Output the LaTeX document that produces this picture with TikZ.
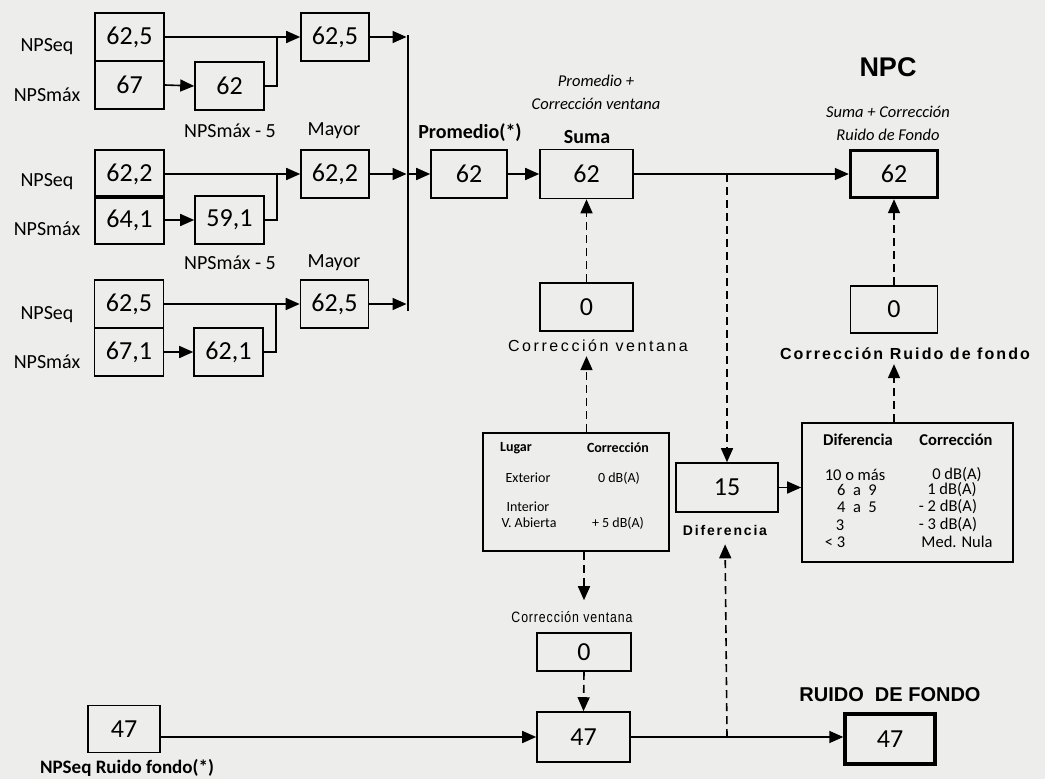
\documentclass[tikz,border=0pt]{standalone}
\usepackage{fontspec}
\setmainfont{Carlito}
\newfontfamily\arialf{Liberation Sans}
\newfontfamily\arialsp[LetterSpace=16]{Liberation Sans}
\newfontfamily\arialspb[LetterSpace=13]{Liberation Sans}
\newfontfamily\arialspn[LetterSpace=6,FakeStretch=0.82]{Liberation Sans}
\usetikzlibrary{arrows.meta}
\definecolor{bgc}{RGB}{237,237,235}
\begin{document}
\begin{tikzpicture}[x=1pt,y=-1pt,
  box/.style={draw, line width=1.6pt, inner sep=0pt, minimum width=69pt, minimum height=48pt, font=\fontsize{26}{26}\selectfont},
  tbox/.style={box, line width=3.4pt},
  conn/.style={line width=1.6pt},
  arr/.style={conn, -{Triangle[length=14pt,width=12pt]}},
  darr/.style={arr, dash pattern=on 8pt off 5pt},
  lbl/.style={inner sep=0pt, font=\fontsize{20}{20}\selectfont},
  blbl/.style={inner sep=0pt, font=\fontsize{20}{20}\selectfont\bfseries},
  ilbl/.style={inner sep=0pt, font=\fontsize{16.5}{16.5}\selectfont\itshape},
  spl/.style={inner sep=0pt, font=\fontsize{16}{16}\selectfont\arialsp},
  tt/.style={inner sep=0pt, font=\fontsize{14}{14}\selectfont},
  ttb/.style={inner sep=0pt, font=\fontsize{14}{14}\selectfont\bfseries},
  dt/.style={inner sep=0pt, font=\fontsize{16.5}{16.5}\selectfont},
  dtb/.style={inner sep=0pt, font=\fontsize{16.5}{16.5}\selectfont\bfseries}
]
\fill[bgc] (0,0) rectangle (1045,779);
\useasboundingbox (0,0) rectangle (1045,779);

% ---- group 1
\node[box] (eq1) at (129.5,37) {62,5};
\node[box] (mx1) at (129.5,85) {67};
\node[box] (m51) at (229.5,86) {62};
\node[box,minimum width=68pt] (my1) at (335,37) {62,5};
\node[lbl] (l1a) at (47,47) {NPSeq};
\node[lbl] (l1b) at (47,95) {NPSmáx};
\node[lbl] (l1c) at (230,131) {NPSmáx - 5};
\node[lbl] (l1d) at (334,131) {Mayor};
\coordinate (j1) at (277,37);
\coordinate (o1) at (406.5,37);
\draw[arr] (eq1.east) -- (my1.west);
\draw[arr] (mx1.east) -- (m51.west);
\draw[conn] (m51.east) -| (j1);
\draw[arr] (my1.east) -- (o1);

% ---- group 2
\node[box] (eq2) at (129.5,174) {62,2};
\node[box] (mx2) at (129.5,220) {64,1};
\node[box] (m52) at (229.5,220) {59,1};
\node[box,minimum width=68pt] (my2) at (335,174) {62,2};
\node[lbl] (l2a) at (47,182) {NPSeq};
\node[lbl] (l2b) at (47,229) {NPSmáx};
\node[lbl] (l2c) at (230,263) {NPSmáx - 5};
\node[lbl] (l2d) at (334,263) {Mayor};
\coordinate (j2) at (277,174);
\coordinate (o2) at (406.5,174);
\draw[arr] (eq2.east) -- (my2.west);
\draw[arr] (mx2.east) -- (m52.west);
\draw[conn] (m52.east) -| (j2);
\draw[arr] (my2.east) -- (o2);

% ---- group 3
\node[box] (eq3) at (129,304) {62,5};
\node[box] (mx3) at (129,352) {67,1};
\node[box] (m53) at (228.5,352) {62,1};
\node[box,minimum width=68pt] (my3) at (334.5,304) {62,5};
\node[lbl] (l3a) at (47,315) {NPSeq};
\node[lbl] (l3b) at (47,362) {NPSmáx};
\coordinate (j3) at (276,304);
\coordinate (o3) at (406.5,304);
\draw[arr] (eq3.east) -- (my3.west);
\draw[arr] (mx3.east) -- (m53.west);
\draw[conn] (m53.east) -| (j3);
\draw[arr] (my3.east) -- (o3);

% vertical collector
\coordinate (vt) at (408,35);
\coordinate (vb) at (408,311);
\coordinate (vm) at (408,174);
\draw[conn] (vt) -- (vb);

% ---- Promedio / Suma
\node[box,minimum width=76pt] (prom) at (469,174) {62};
\node[blbl] (promlab) at (470,133) {Promedio(*)};
\draw[arr] (vm) -- (prom.west);
\node[box,minimum width=93pt,minimum height=49pt] (suma) at (586.5,174) {62};
\node[blbl] (sumalab) at (587,137) {Suma};
\node[ilbl] (sumai1) at (596,81) {Promedio +};
\node[ilbl] (sumai2) at (596,104) {Corrección ventana};
\draw[arr] (prom.east) -- (suma.west);

\node[box,minimum width=93pt] (cv0) at (586.5,307) {0};
\draw[darr] (cv0.north) -- (suma.south);
\node[spl] (cvlab) at (598,346) {Corrección ventana};

% Lugar table
\node[draw,line width=1.6pt,minimum width=186pt,minimum height=118pt,inner sep=0pt] (lug) at (576,492) {};
\node[ttb] (lgh1) at (516,448) {Lugar};
\node[ttb] (lgh2) at (618,448) {Corrección};
\node[tt] (lg1a) at (528,478) {Exterior};
\node[tt] (lg1b) at (619,478) {0 dB(A)};
\node[tt] (lg2a) at (528,507) {Interior};
\node[tt] (lg2b) at (529,523) {V. Abierta};
\node[tt] (lg2c) at (618,523) {+ 5 dB(A)};
\draw[darr,shorten >=4pt] (lug.north -| cv0) -- (cv0 |- cvlab.south);

\node[inner sep=0pt,font=\fontsize{15}{15}\selectfont\arialspn] (cvlab2) at (572,617) {Corrección ventana};
\node[box,minimum width=94pt,minimum height=38pt] (cvb0) at (584,652) {0};
\draw[darr,shorten >=11pt] (lug.south -| cvb0) -- (cvb0 |- cvlab2.north);

% ---- bottom row
\node[box,minimum width=72pt,minimum height=47pt] (nf) at (124,729) {47};
\node[blbl,font=\fontsize{19}{19}\selectfont\bfseries] (nflab) at (127,768) {NPSeq Ruido fondo(*)};
\node[box,minimum width=93pt,minimum height=50pt] (mid) at (583.5,737) {47};
\node[tbox,minimum width=90pt,minimum height=50pt] (rf) at (890,739) {47};
\node[inner sep=0pt,font=\fontsize{20}{20}\selectfont\arialf\bfseries] (rflabb) at (890,695) {RUIDO\ \ DE FONDO};
\draw[darr] (cvb0.south) -- (mid.north);
\draw[arr] (nf.east |- mid.west) -- (mid.west);
\draw[arr] (mid.east) -- (mid.east -| rf.west);

% ---- Diferencia
\node[box,minimum width=102pt,minimum height=49pt] (dif) at (727,487.5) {15};
\node[inner sep=0pt,font=\fontsize{14}{14}\selectfont\arialspb\bfseries] (diflab) at (725,530) {Diferencia};
\coordinate (dtop) at (dif.north |- suma.east);
\coordinate (dbot) at (dif.south |- mid.east);
\draw[darr] (dtop) -- (dif.north);
\draw[darr,shorten >=9pt] (dbot) -- (diflab.south);

% correction table
\node[draw,line width=1.6pt,minimum width=211pt,minimum height=139pt,inner sep=0pt] (tab) at (907.5,492.5) {};
\node[dtb] (th1) at (858,440) {Diferencia};
\node[dtb] (th2) at (956,440) {Corrección};
\node[dt] (ta1) at (855,475) {10 o más};
\node[dt] (ta2) at (857,490) {6\ \ a\ \ 9};
\node[dt] (ta3) at (857,507) {4\ \ a\ \ 5};
\node[dt] (ta4) at (840,525) {3};
\node[dt] (ta5) at (835,542) {< 3};
\node[dt] (tb1) at (957,475) {0 dB(A)};
\node[dt] (tb2) at (952,490) {1 dB(A)};
\node[dt] (tb3) at (948,507) {- 2 dB(A)};
\node[dt] (tb4) at (948,525) {- 3 dB(A)};
\node[dt] (tb5) at (957,542) {Med. Nula};
\draw[darr] (dif.east) -- (dif.east -| tab.west);

% ---- NPC
\node[tbox,minimum width=87pt,minimum height=47pt] (npc) at (894,174) {62};
\node[inner sep=0pt,font=\fontsize{27}{27}\selectfont\arialf\bfseries] (npclab) at (888,67) {NPC};
\node[ilbl] (npci1) at (888,112) {Suma + Corrección};
\node[ilbl] (npci2) at (888,135) {Ruido de Fondo};
\draw[arr] (suma.east) -- (npc.west);
\node[box,minimum width=87pt,minimum height=47pt] (rf0) at (894,309.5) {0};
\draw[darr] (rf0.north) -- (npc.south);
\node[inner sep=0pt,font=\fontsize{16}{16}\selectfont\arialspb\bfseries] (rflab) at (905,354) {Corrección Ruido de fondo};
\draw[darr,shorten >=4pt] (tab.north -| rf0) -- (rf0 |- rflab.south);
\end{tikzpicture}
\end{document}
